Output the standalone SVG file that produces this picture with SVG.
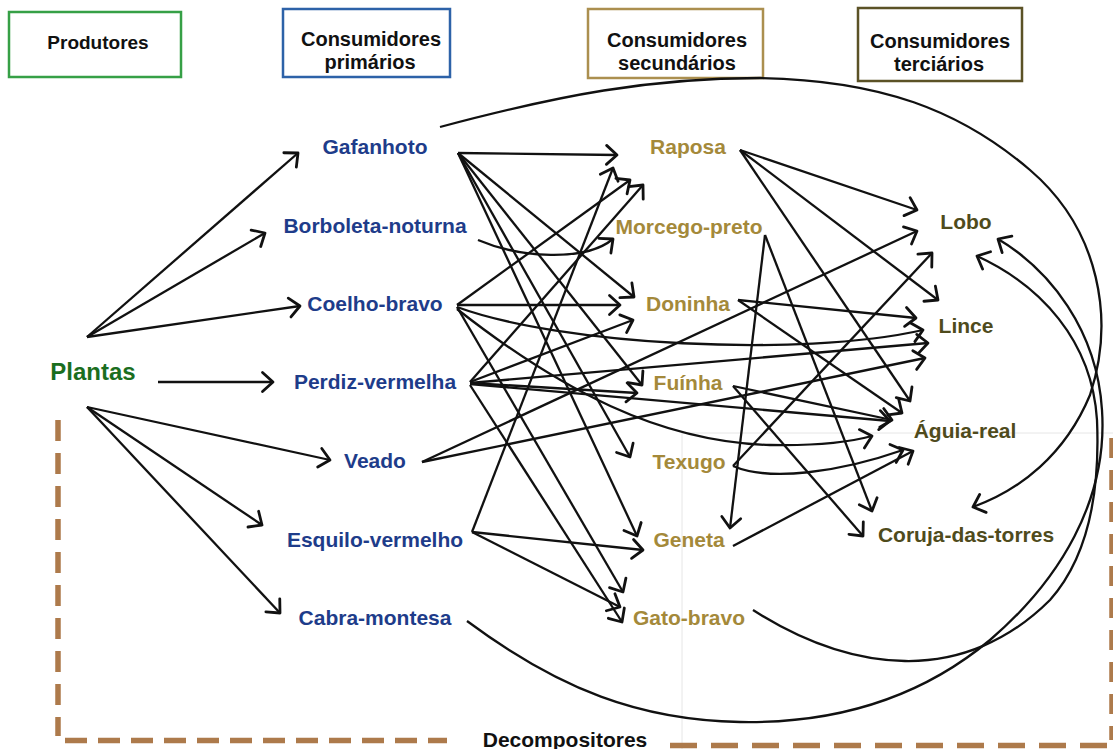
<svg xmlns="http://www.w3.org/2000/svg" width="1113" height="749" viewBox="0 0 1113 749">
<style>
text{font-family:"Liberation Sans",Arial,sans-serif;font-weight:bold;text-anchor:middle}
.hd{font-size:20px;fill:#111}
.p{font-size:21px;fill:#1e3c8a}
.s{font-size:21px;fill:#a4893a}
.t{font-size:21px;fill:#4f4b1c}
.box{fill:#fff;stroke-width:2.5}
.c path{fill:none;stroke:#111;stroke-width:2.3;marker-end:url(#a)}
.dash{fill:none;stroke:#ad7a4b;stroke-width:5.5}
.faint{stroke:#e6e6e6;stroke-width:1;fill:none}
</style>
<defs>
<marker id="a" markerUnits="userSpaceOnUse" markerWidth="24" markerHeight="24" viewBox="-14 -12 18 24" refX="0" refY="0" orient="auto">
<path d="M-10.5,-9.5 L0,0 L-10.5,9.5" fill="none" stroke="#111" stroke-width="2.8" stroke-linecap="round" stroke-linejoin="round"/>
</marker>
</defs>
<rect width="1113" height="749" fill="#fff"/>
<g id="background-lines">
<line class="faint" x1="682" y1="433" x2="1113" y2="433"/>
<line class="faint" x1="682" y1="433" x2="682" y2="749"/>
</g>
<g id="decompositores-border">
<line class="dash" x1="58" y1="420" x2="58" y2="736" stroke-dasharray="21 12"/>
<line class="dash" x1="65" y1="740.5" x2="447" y2="740.5" stroke-dasharray="22 11"/>
<line class="dash" x1="670" y1="745.5" x2="1113" y2="745.5" stroke-dasharray="27 14"/>
<line class="dash" x1="1112" y1="438" x2="1112" y2="740" stroke-dasharray="20 12" stroke="#d8b48c" stroke-width="3"/>
</g>
<g id="header-produtores"><rect class="box" x="9" y="12" width="172" height="65" stroke="#36a046"/><text class="hd" x="98" y="49" style="font-size:19px">Produtores</text></g>
<g id="header-primarios"><rect class="box" x="283" y="9" width="167" height="68" stroke="#2d62a8"/><text class="hd" x="371" y="46">Consumidores</text><text class="hd" x="370" y="69">primários</text></g>
<g id="header-secundarios"><rect class="box" x="588" y="9" width="175" height="69" stroke="#ab8f4f"/><text class="hd" x="677" y="47">Consumidores</text><text class="hd" x="677" y="70">secundários</text></g>
<g id="header-terciarios"><rect class="box" x="858" y="8" width="164" height="73" stroke="#5b5226"/><text class="hd" x="940" y="48">Consumidores</text><text class="hd" x="939" y="71">terciários</text></g>
<g id="connectors" class="c">
<path d="M87,337 L298,153"/>
<path d="M87,337 L265,233"/>
<path d="M87,337 L300,306"/>
<path d="M158,382 L273,382"/>
<path d="M87,407 L330,460"/>
<path d="M87,407 L262,525"/>
<path d="M87,407 L280,613"/>
<path d="M458,153 L617,155"/>
<path d="M458,153 L634,297"/>
<path d="M458,153 L642,385"/>
<path d="M458,153 L630,457"/>
<path d="M458,153 L637,536"/>
<path d="M478,240 C520,258 585,262 613,239"/>
<path d="M457,305 L630,180"/>
<path d="M457,305 L620,305"/>
<path d="M457,307 C560,345 800,358 923,330"/>
<path d="M457,309 C560,390 660,442 770,445 C820,446 850,442 872,436"/>
<path d="M457,307 L623,592"/>
<path d="M470,382 L643,185"/>
<path d="M470,382 L633,320"/>
<path d="M470,383 L637,393"/>
<path d="M470,383 L928,343"/>
<path d="M470,384 L890,421"/>
<path d="M470,385 L622,622"/>
<path d="M422,462 L917,231"/>
<path d="M422,462 L925,358"/>
<path d="M472,532 L613,168"/>
<path d="M472,532 L643,550"/>
<path d="M472,532 L620,607"/>
<path d="M740,150 L917,210"/>
<path d="M740,150 L938,300"/>
<path d="M740,150 L910,401"/>
<path d="M765,235 L730,528"/>
<path d="M765,235 L872,511"/>
<path d="M738,300 L916,318"/>
<path d="M738,300 L902,413"/>
<path d="M733,386 L892,420"/>
<path d="M733,386 L863,536"/>
<path d="M733,466 L932,253"/>
<path d="M733,466 C770,482 840,472 903,450"/>
<path d="M733,546 L913,451"/>
<path d="M440,127 C560,95 650,78 760,78 C880,80 960,110 1030,170 C1100,230 1115,320 1090,395 C1065,455 1020,490 973,507"/>
<path d="M753,610 C800,640 850,660 905,661 C960,662 1010,640 1050,600 C1090,555 1100,490 1097,420 C1092,340 1040,285 977,256"/>
<path d="M467,621 C560,690 640,720 740,722 C850,724 930,690 990,640 C1060,580 1108,500 1102,410 C1097,330 1050,270 998,239"/>
</g>
<g id="plantas"><text x="93" y="380" style="font-size:24px;fill:#1a6e1e">Plantas</text></g>
<g id="gafanhoto"><text class="p" x="375" y="154">Gafanhoto</text></g>
<g id="borboleta-noturna"><text class="p" x="375" y="233">Borboleta-noturna</text></g>
<g id="coelho-bravo"><text class="p" x="375" y="311">Coelho-bravo</text></g>
<g id="perdiz-vermelha"><text class="p" x="375" y="389">Perdiz-vermelha</text></g>
<g id="veado"><text class="p" x="375" y="468">Veado</text></g>
<g id="esquilo-vermelho"><text class="p" x="375" y="547">Esquilo-vermelho</text></g>
<g id="cabra-montesa"><text class="p" x="375" y="625">Cabra-montesa</text></g>
<g id="raposa"><text class="s" x="688" y="154">Raposa</text></g>
<g id="morcego-preto"><text class="s" x="689" y="234">Morcego-preto</text></g>
<g id="doninha"><text class="s" x="688" y="311">Doninha</text></g>
<g id="fuinha"><text class="s" x="688" y="390">Fuínha</text></g>
<g id="texugo"><text class="s" x="689" y="469">Texugo</text></g>
<g id="geneta"><text class="s" x="689" y="547">Geneta</text></g>
<g id="gato-bravo"><text class="s" x="689" y="625">Gato-bravo</text></g>
<g id="lobo"><text class="t" x="966" y="229">Lobo</text></g>
<g id="lince"><text class="t" x="966" y="333">Lince</text></g>
<g id="aguia-real"><text class="t" x="965" y="438">Águia-real</text></g>
<g id="coruja-das-torres"><text class="t" x="966" y="542">Coruja-das-torres</text></g>
<g id="decompositores"><text x="565" y="747" style="font-size:21px;fill:#111">Decompositores</text></g>
</svg>
